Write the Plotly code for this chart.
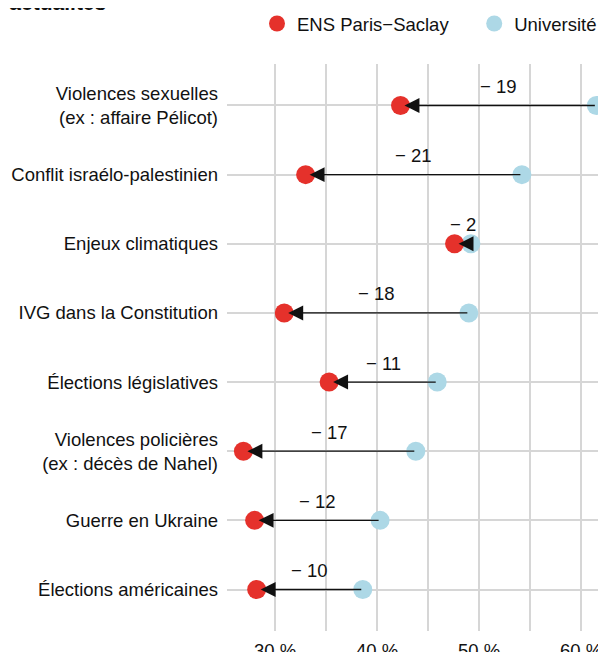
import plotly.graph_objects as go

categories = [
    "Violences sexuelles<br>(ex : affaire Pélicot)",
    "Conflit israélo-palestinien",
    "Enjeux climatiques",
    "IVG dans la Constitution",
    "Élections législatives",
    "Violences policières<br>(ex : décès de Nahel)",
    "Guerre en Ukraine",
    "Élections américaines",
]
ens_values = [42.3, 33.0, 47.6, 30.9, 35.3, 26.9, 28.0, 28.2]
univ_values = [61.5, 54.2, 49.2, 49.0, 45.9, 43.8, 40.3, 38.6]
x_tick_values = [30, 35, 40, 45, 50, 55, 60]
x_tick_labels = ["30 %", "", "40 %", "", "50 %", "", "60 %"]

RED = "#e5312b"
BLUE = "#add8e6"
FONT = "Liberation Sans, Arial, sans-serif"
FS = 18.5

rows = list(range(len(categories)))

fig = go.Figure()
fig.add_trace(go.Scatter(
    x=univ_values, y=rows, mode="markers", name="Université",
    marker=dict(color=BLUE, size=19), legendrank=2, hoverinfo="skip",
))
fig.add_trace(go.Scatter(
    x=ens_values, y=rows, mode="markers", name="ENS Paris\u2212Saclay" + "\u00a0" * 4,
    marker=dict(color=RED, size=19), legendrank=1, hoverinfo="skip",
))

annotations = []
for r, e, u in zip(rows, ens_values, univ_values):
    annotations.append(dict(
        x=e, y=r, ax=u, ay=r, xref="x", yref="y", axref="x", ayref="y",
        text="", showarrow=True, arrowhead=2, arrowsize=2.3, arrowwidth=1.3,
        arrowcolor="#111111", standoff=4,
    ))
    d = round(e - u)
    annotations.append(dict(
        x=(e + u) / 2, y=r, xref="x", yref="y", yshift=19,
        text=("\u2212 %d" % abs(d)) if d < 0 else ("+ %d" % d),
        showarrow=False, font=dict(family=FONT, size=FS, color="#111111"),
    ))

# plot area: left 219, top 56, width 387, height 567 (page adds 8px body margin)
annotations.append(dict(
    x=(100 - 219) / 387, y=1 + 48 / 567, xref="paper", yref="paper",
    text="<b>sujets d'actualités</b>",
    showarrow=False, xanchor="right", yanchor="bottom",
    font=dict(family=FONT, size=21, color="#111111"),
))

fig.update_layout(
    width=606, height=652,
    margin=dict(l=219, r=0, t=56, b=29, autoexpand=False),
    paper_bgcolor="white", plot_bgcolor="white",
    font=dict(family=FONT, size=FS, color="#111111"),
    showlegend=True,
    legend=dict(
        orientation="h", xref="container", yref="container",
        x=249 / 606, y=1 - 16 / 652, xanchor="left", yanchor="middle",
        font=dict(family=FONT, size=FS, color="#111111"),
        bgcolor="rgba(0,0,0,0)", traceorder="normal",
    ),
    xaxis=dict(
        range=[25.29, 63.23], tickvals=x_tick_values, ticktext=x_tick_labels,
        showgrid=True, gridcolor="#d6d6d6", gridwidth=1.5, zeroline=False,
        showline=False, ticks="", ticklabelstandoff=6, automargin=False,
        tickfont=dict(family=FONT, size=FS, color="#111111"),
    ),
    yaxis=dict(
        range=[7.6, -0.6], tickvals=rows, ticktext=categories,
        showgrid=True, gridcolor="#d6d6d6", gridwidth=1.5, zeroline=False,
        showline=False, ticks="", ticklabelstandoff=8, automargin=False,
        tickfont=dict(family=FONT, size=FS, color="#111111"),
    ),
    annotations=annotations,
)

fig.write_html("out.html")
